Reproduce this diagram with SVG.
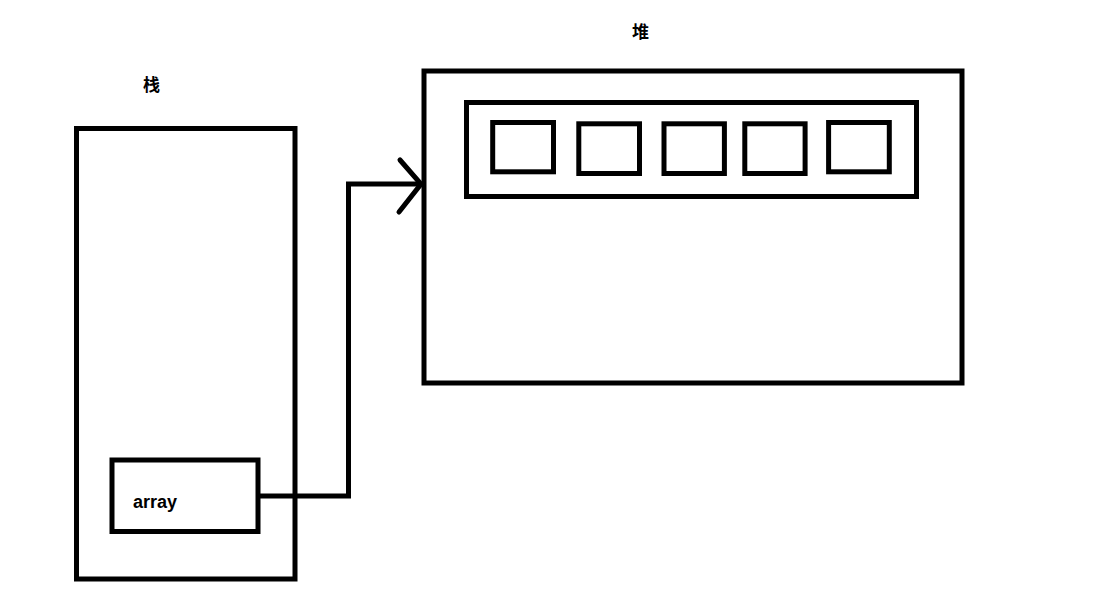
<svg xmlns="http://www.w3.org/2000/svg" width="1097" height="604" viewBox="0 0 1097 604">
<style>
.box{fill:none;stroke:#000;stroke-width:5}
.wire{fill:none;stroke:#000;stroke-width:5}
.lbl{font-family:"Liberation Sans","Noto Sans CJK SC",sans-serif;font-weight:bold;fill:#000}
</style>
<rect width="1097" height="604" fill="#fff"/>
<g id="stack">
<rect class="box" x="76.5" y="128.5" width="218.5" height="450.5"/>
<text class="lbl" x="151.5" y="91" font-size="17" text-anchor="middle">栈</text>
</g>
<g id="array">
<rect class="box" x="112" y="460" width="146" height="71.5"/>
<text class="lbl" x="133" y="507.5" font-size="18">array</text>
</g>
<g id="heap">
<rect class="box" x="424" y="71" width="538" height="312"/>
<text class="lbl" x="640.5" y="38" font-size="17" text-anchor="middle">堆</text>
</g>
<g id="heap-array">
<rect class="box" x="466.5" y="102.5" width="450" height="94"/>
</g>
<g id="cell1"><rect class="box" x="492.7" y="122.5" width="60.8" height="49.3"/></g>
<g id="cell2"><rect class="box" x="578.8" y="123.8" width="60.7" height="49.7"/></g>
<g id="cell3"><rect class="box" x="664" y="123.8" width="60.4" height="49.7"/></g>
<g id="cell4"><rect class="box" x="744.8" y="123.8" width="60.3" height="49.7"/></g>
<g id="cell5"><rect class="box" x="828.6" y="122.5" width="60.7" height="49.3"/></g>
<g id="connectors">
<polyline class="wire" points="258,496 348.5,496 348.5,184 421,184"/>
<polyline class="wire" stroke-linecap="round" points="400,160 421,184 399,212"/>
</g>
</svg>
